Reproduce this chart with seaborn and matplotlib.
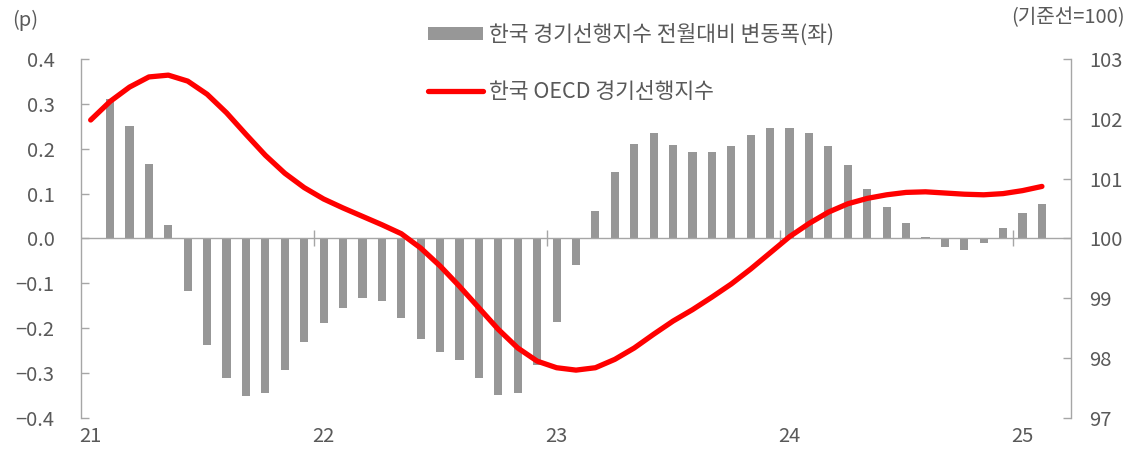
import numpy as np
import pandas as pd
import matplotlib
matplotlib.use("Agg")
import matplotlib.pyplot as plt
import seaborn as sns
from matplotlib.patches import Patch
from matplotlib.lines import Line2D

# ---------------- data ----------------
start_month = "2021-01"
n_months = 50
# 한국 경기선행지수 전월대비 변동폭 (p), 2021-01 .. 2025-02 (first month not shown)
chg = [np.nan, 0.31, 0.25, 0.165, 0.03, -0.117, -0.237, -0.312, -0.35, -0.344,
       -0.292, -0.23, -0.189, -0.154, -0.132, -0.139, -0.177, -0.223, -0.252, -0.271,
       -0.312, -0.349, -0.345, -0.281, -0.186, -0.059, 0.061, 0.148, 0.211, 0.234,
       0.208, 0.192, 0.193, 0.206, 0.23, 0.247, 0.246, 0.235, 0.206, 0.164,
       0.111, 0.07, 0.034, 0.003, -0.019, -0.026, -0.01, 0.023, 0.056, 0.076]
# 한국 OECD 경기선행지수 (기준선=100)
oecd = [101.98, 102.29, 102.53, 102.70, 102.73, 102.63, 102.41, 102.10, 101.74, 101.39,
        101.09, 100.85, 100.66, 100.51, 100.37, 100.23, 100.08, 99.84, 99.54, 99.20,
        98.84, 98.48, 98.17, 97.95, 97.84, 97.80, 97.84, 97.98, 98.17, 98.40,
        98.62, 98.81, 99.02, 99.24, 99.49, 99.76, 100.03, 100.25, 100.44, 100.58,
        100.67, 100.73, 100.77, 100.78, 100.76, 100.74, 100.73, 100.75, 100.80, 100.87]
year_labels = ["21", "22", "23", "24", "25"]
left_ticks = [-0.4, -0.3, -0.2, -0.1, 0.0, 0.1, 0.2, 0.3, 0.4]
right_ticks = [97, 98, 99, 100, 101, 102, 103]
bar_label = "한국 경기선행지수 전월대비 변동폭(좌)"
line_label = "한국 OECD 경기선행지수"

months = pd.date_range(start_month, periods=n_months, freq="MS")
df = pd.DataFrame({"idx": np.arange(n_months), "month": months, "chg": chg, "oecd": oecd})

# ---------------- style ----------------
sns.set_theme(style="white")
plt.rcParams["font.family"] = ["Noto Sans CJK KR", "DejaVu Sans"]
plt.rcParams["font.weight"] = "light"
txt = "#595959"
axis_col = "#a6a6a6"
bar_col = "#979797"
fs_tick = 14.5
fs_leg = 15.5

fig = plt.figure(figsize=(11.26, 4.53), dpi=100)
ax = fig.add_axes([0.0719, 0.0773, 0.8793, 0.7925])
ax2 = ax.twinx()

sns.barplot(data=df, x="idx", y="chg", ax=ax, color=bar_col, width=0.42,
            native_scale=True, saturation=1, edgecolor="none")
sns.lineplot(data=df, x="idx", y="oecd", ax=ax2, color="#ff0000", lw=3.8,
             solid_capstyle="round", solid_joinstyle="round")

ax.set_xlim(-0.5, n_months + 0.5)
ax.set_ylim(-0.4, 0.4)
ax2.set_ylim(97, 103)
ax.set_yticks(left_ticks)
ax.set_yticklabels([f"{t:.1f}".replace("-", "−") for t in left_ticks])
ax2.set_yticks(right_ticks)
ax2.set_yticklabels([str(t) for t in right_ticks])

jan_idx = df.index[df["month"].dt.month == 1].tolist()
ax.set_xticks(jan_idx)
ax.set_xticklabels(year_labels)
ax.set_xlabel("")
ax.set_ylabel("")
ax2.set_xlabel("")
ax2.set_ylabel("")

for a in (ax, ax2):
    for s in ("top", "bottom"):
        a.spines[s].set_visible(False)
    a.spines["left"].set_color(axis_col)
    a.spines["right"].set_color(axis_col)
    a.spines["left"].set_linewidth(1)
    a.spines["right"].set_linewidth(1)
ax.spines["right"].set_visible(False)
ax2.spines["left"].set_visible(False)

ax.tick_params(axis="y", direction="in", length=6, width=1, color=axis_col,
               labelcolor=txt, labelsize=fs_tick, pad=19)
ax2.tick_params(axis="y", direction="in", length=6, width=1, color=axis_col,
                labelcolor=txt, labelsize=fs_tick, pad=13)
ax.tick_params(axis="x", length=0, labelcolor=txt, labelsize=fs_tick, pad=6)
ax2.tick_params(axis="x", length=0)

# zero line and year-boundary ticks on it
ax.axhline(0, color=axis_col, lw=1, zorder=1)
bounds = [i - 0.5 for i in jan_idx[1:]]
ax.plot(bounds, [0] * len(bounds), ls="none", marker="|", ms=12, mew=1,
        color=axis_col, zorder=1)

ax2.set_zorder(ax.get_zorder() + 1)

fig.text(12 / 1126, 1 - 20 / 453, "(p)", color=txt, fontsize=fs_tick, va="center", ha="left")
fig.text(1 - 1 / 1126, 1 - 18 / 453, "(기준선=100)", color=txt, fontsize=fs_tick,
         va="center", ha="right")

handles = [Patch(facecolor=bar_col, edgecolor="none"),
           Line2D([0], [0], color="#ff0000", lw=3.8, solid_capstyle="round")]
fig.legend(handles, [bar_label, line_label], loc="upper left",
           bbox_to_anchor=(419 / 1126, 1 - 15 / 453), frameon=False,
           fontsize=fs_leg, labelcolor=txt, handlelength=2.55, handleheight=0.55,
           handletextpad=0.3, labelspacing=1.65, borderaxespad=0)

fig.savefig("out.png", dpi=100)
